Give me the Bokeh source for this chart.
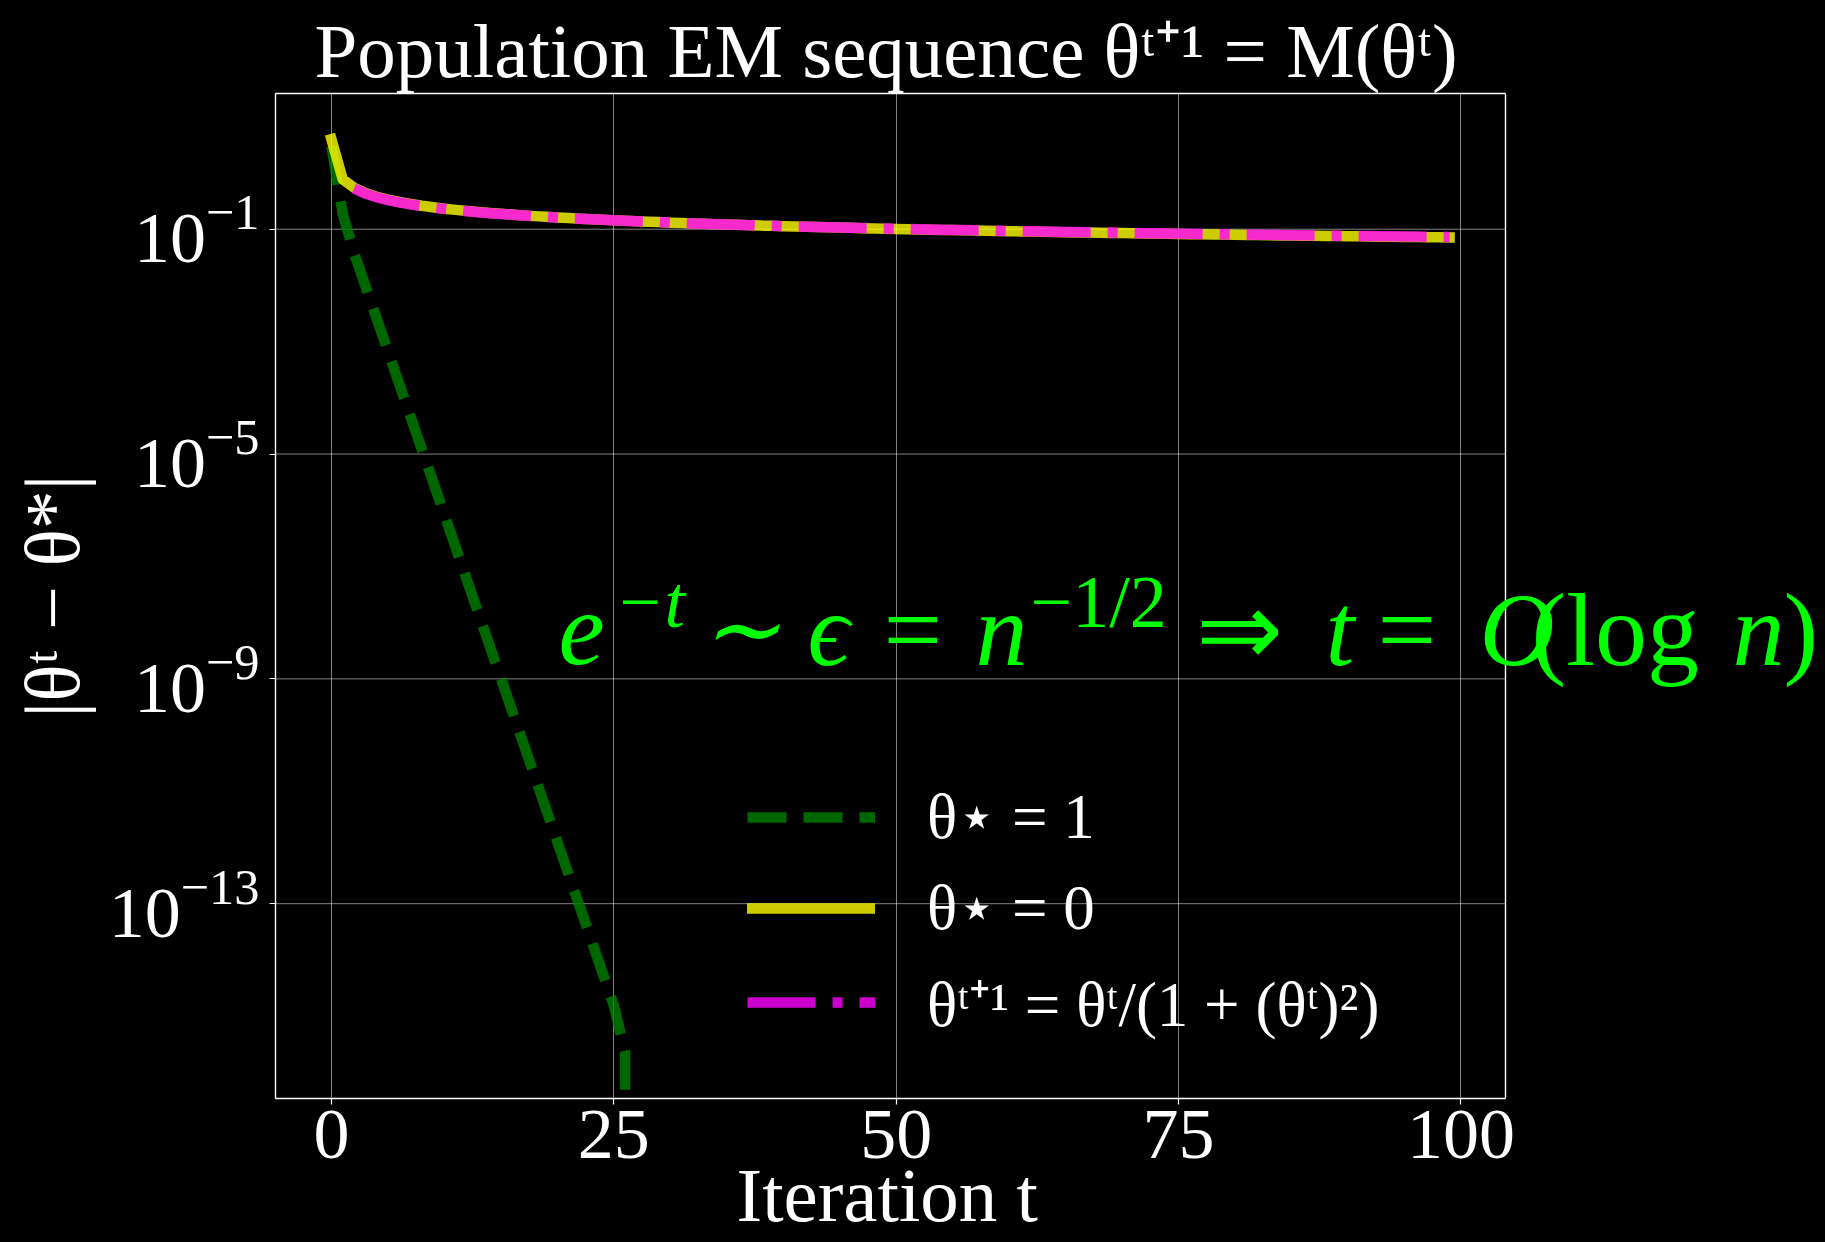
import numpy as np
from bokeh.plotting import figure
from bokeh.models import (Range1d, FixedTicker, LogTickFormatter, Legend,
                          LegendItem, Label, LinearAxis, Span, Title)
from bokeh.embed import file_html
from bokeh.resources import INLINE

# ---------------- data ----------------
iterations = list(range(100))

# |theta^t - theta*| for theta* = 1  (exactly 0 from t = 27 on)
err_star_one = [3.0, 0.19, 0.038, 0.00995, 2.61e-3, 6.82e-4, 1.79e-4, 4.68e-5,
                1.22e-5, 3.21e-6, 8.39e-7, 2.20e-7, 5.75e-8, 1.51e-8, 3.94e-9,
                1.03e-9, 2.70e-10, 7.08e-11, 1.85e-11, 4.85e-12, 1.27e-12,
                3.33e-13, 8.71e-14, 2.28e-14, 5.97e-15, 1.56e-15, 2.22e-16] + [0.0] * 73

# |theta^t - theta*| for theta* = 0
err_star_zero = [4.0, 0.777, 0.549, 0.441, 0.378, 0.336, 0.305, 0.281, 0.261, 0.246,
                 0.232, 0.221, 0.211, 0.202, 0.195, 0.188, 0.182, 0.176, 0.171, 0.166,
                 0.162, 0.158, 0.154, 0.151, 0.147, 0.144, 0.141, 0.139, 0.136, 0.134,
                 0.131, 0.129, 0.127, 0.125, 0.123, 0.121, 0.120, 0.118, 0.116, 0.115,
                 0.113, 0.112, 0.111, 0.109, 0.108, 0.107, 0.106, 0.104, 0.103, 0.102,
                 0.101, 0.100, 0.0992, 0.0982, 0.0973, 0.0964, 0.0955, 0.0946, 0.0938, 0.0930,
                 0.0922, 0.0914, 0.0907, 0.0899, 0.0892, 0.0885, 0.0878, 0.0872, 0.0865, 0.0859,
                 0.0853, 0.0847, 0.0841, 0.0835, 0.0829, 0.0823, 0.0818, 0.0812, 0.0807, 0.0802,
                 0.0797, 0.0792, 0.0787, 0.0782, 0.0777, 0.0773, 0.0768, 0.0764, 0.0759, 0.0755,
                 0.0751, 0.0747, 0.0742, 0.0738, 0.0734, 0.0730, 0.0727, 0.0723, 0.0719, 0.0715]

# recursion theta^{t+1} = theta^t / (1 + (theta^t)^2), shown from t = 2
recursion_t = list(range(2, 100))
recursion_vals = [0.530, 0.430, 0.370, 0.330, 0.300, 0.277, 0.258, 0.243, 0.230,
                  0.219, 0.209, 0.201, 0.193, 0.187, 0.181, 0.175, 0.170, 0.166, 0.161,
                  0.157, 0.154, 0.150, 0.147, 0.144, 0.141, 0.139, 0.136, 0.134, 0.131,
                  0.129, 0.127, 0.125, 0.123, 0.121, 0.120, 0.118, 0.116, 0.115, 0.113,
                  0.112, 0.111, 0.110, 0.108, 0.107, 0.106, 0.105, 0.104, 0.103, 0.102,
                  0.101, 0.100, 0.0991, 0.0982, 0.0973, 0.0964, 0.0956, 0.0948, 0.0940, 0.0932,
                  0.0924, 0.0917, 0.0910, 0.0903, 0.0896, 0.0889, 0.0883, 0.0876, 0.0870, 0.0864,
                  0.0858, 0.0852, 0.0846, 0.0841, 0.0835, 0.0830, 0.0824, 0.0819, 0.0814, 0.0809,
                  0.0804, 0.0799, 0.0795, 0.0790, 0.0785, 0.0781, 0.0777, 0.0772, 0.0768, 0.0764,
                  0.0760, 0.0756, 0.0752, 0.0748, 0.0744, 0.0740, 0.0737, 0.0733, 0.0729]

x_ticks = [0, 25, 50, 75, 100]
y_ticks = [1e-13, 1e-9, 1e-5, 1e-1]

series_labels = ["θ⋆ = 1", "θ⋆ = 0", "θᵗ⁺¹ = θᵗ/(1 + (θᵗ)²)"]

# ---------------- layout ----------------
BOX_LEFT, BOX_W = 275, 1230          # visible axes box (pixels)
FRAME_W = 1545                        # frame runs on to the right edge so the
FRAME_H = 1005                        # annotation can overflow the box
FONT = "Liberation Serif"

# ranges: matplotlib-like 5% margins
xmin, xmax = min(iterations), max(iterations)
x_lo = xmin - 0.05 * (xmax - xmin)
x_hi = xmax + 0.05 * (xmax - xmin)
x_frame_end = x_lo + (x_hi - x_lo) * FRAME_W / BOX_W
positive = [v for v in err_star_one + err_star_zero + recursion_vals if v > 0]
lmin, lmax = np.log10(min(positive)), np.log10(max(positive))
lpad = 0.05 * (lmax - lmin)
y_lo, y_hi = 10 ** (lmin - lpad), 10 ** (lmax + lpad)

p = figure(frame_width=FRAME_W, frame_height=FRAME_H,
           min_border_left=BOX_LEFT, min_border_right=0,
           min_border_top=93, min_border_bottom=142,
           x_range=Range1d(x_lo, x_frame_end), y_range=Range1d(y_lo, y_hi),
           y_axis_type="log", output_backend="svg", toolbar_location=None,
           background_fill_color="black", border_fill_color="black",
           outline_line_color=None,
           title="Population EM sequence θᵗ⁺¹ = M(θᵗ)")

p.title.text_font = FONT
p.title.text_font_size = "77px"
p.title.text_font_style = "normal"
p.title.text_color = "white"
p.title.align = "left"
p.title.offset = 39
p.title.standoff = 0

for ax in (p.xaxis[0], p.yaxis[0]):
    ax.axis_line_color = "white"
    ax.axis_line_width = 1.4
    ax.major_tick_line_color = "white"
    ax.major_tick_line_width = 1.2
    ax.major_tick_out = 6
    ax.major_tick_in = 0
    ax.minor_tick_line_color = None
    ax.minor_tick_out = 0
    ax.major_label_text_font = FONT
    ax.major_label_text_font_size = "72px"
    ax.major_label_text_color = "white"
    ax.axis_label_text_font = FONT
    ax.axis_label_text_font_style = "normal"
    ax.axis_label_text_color = "white"

p.xaxis.bounds = (x_lo, x_hi)
p.xaxis.ticker = FixedTicker(ticks=x_ticks)
p.xaxis.major_label_standoff = 6
p.yaxis.ticker = FixedTicker(ticks=y_ticks)
p.yaxis.formatter = LogTickFormatter()
p.yaxis.major_label_standoff = 10
p.yaxis.axis_label = "|θᵗ − θ*|"
p.yaxis.axis_label_text_font_size = "78px"
p.yaxis.axis_label_standoff = 10

# x label as a below-title so it stays centred on the box, not on the frame
p.add_layout(Title(text="Iteration t", align="left", offset=461, standoff=-22,
                   text_font=FONT, text_font_size="77px", text_font_style="normal",
                   text_color="white"), "below")

# top and right sides of the box
p.add_layout(LinearAxis(ticker=FixedTicker(ticks=[]), bounds=(x_lo, x_hi),
                        axis_line_color="white", axis_line_width=1.4,
                        major_tick_out=0, minor_tick_out=0, major_tick_line_color=None,
                        minor_tick_line_color=None, major_label_standoff=0,
                        major_label_text_font_size="0px"), "above")
p.add_layout(Span(location=x_hi, dimension="height", line_color="white", line_width=1.4))

# grid
p.xgrid.ticker = FixedTicker(ticks=x_ticks)
p.xgrid.grid_line_color = "white"
p.xgrid.grid_line_alpha = 0.5
p.xgrid.grid_line_width = 1
p.ygrid.visible = False
p.segment(x0=[x_lo] * len(y_ticks), y0=y_ticks, x1=[x_hi] * len(y_ticks), y1=y_ticks,
          line_color="white", line_alpha=0.5, line_width=1)

# lines (non-positive values clipped like matplotlib's log scale)
green_vals = np.maximum(np.array(err_star_one), 1e-300)
r1 = p.line(iterations, green_vals, line_color="#008000", line_alpha=0.8,
            line_width=10.5, line_dash="39 17", line_cap="butt", line_join="round")
r2 = p.line(iterations, err_star_zero, line_color="#ffff00", line_alpha=0.8,
            line_width=10.5, line_cap="square", line_join="round")
r3 = p.line(recursion_t, recursion_vals, line_color="#ff00ff", line_alpha=0.8,
            line_width=10.5, line_dash="68 17 10 17", line_cap="butt", line_join="round")

legend = Legend(items=[LegendItem(label=series_labels[0], renderers=[r1]),
                       LegendItem(label=series_labels[1], renderers=[r2]),
                       LegendItem(label=series_labels[2], renderers=[r3])],
                location=(472, 54), padding=0, margin=0, spacing=11,
                glyph_width=128, glyph_height=80, label_height=80,
                label_standoff=52, background_fill_alpha=0, border_line_alpha=0,
                label_text_font=FONT, label_text_font_size="63px",
                label_text_color="white", label_text_baseline="middle")
p.add_layout(legend)

# green annotation: e^{-t} ~ eps = n^{-1/2} => t = O(log n)
GREEN = "#00ff00"
BIG, SUP = 104, 74
Y_MAIN, Y_SUP = 469, 497
pieces = [
    ("e", 283, Y_MAIN, BIG, "italic"),
    ("−t", 339, Y_SUP, SUP, "italic"),
    ("∼", 424, Y_MAIN, 96, "italic"),
    ("ϵ", 532, Y_MAIN, BIG, "italic"),
    ("=", 608, Y_MAIN, BIG, "normal"),
    ("n", 700, Y_MAIN, BIG, "italic"),
    ("−1/2", 755, Y_SUP, SUP, "normal"),
    ("⇒", 920, Y_MAIN, BIG, "normal"),
    ("t", 1050, Y_MAIN, BIG, "italic"),
    ("=", 1102, Y_MAIN, BIG, "normal"),
    ("O", 1204, Y_MAIN, BIG, "italic"),
    ("(log", 1256, Y_MAIN, BIG, "normal"),
    ("n", 1457, Y_MAIN, BIG, "italic"),
    (")", 1508, Y_MAIN, BIG, "normal"),
]
for txt, sx, sy, size, style in pieces:
    p.add_layout(Label(x=sx, y=sy, x_units="screen", y_units="screen", text=txt,
                       text_font=FONT, text_font_size=f"{size}px", text_font_style=style,
                       text_color=GREEN, text_baseline="alphabetic", text_align="left"))

html = file_html(p, INLINE)
html = html.replace("<head>", "<head><style>body{background:#000;}</style>", 1)
open("out.html", "w").write(html)
